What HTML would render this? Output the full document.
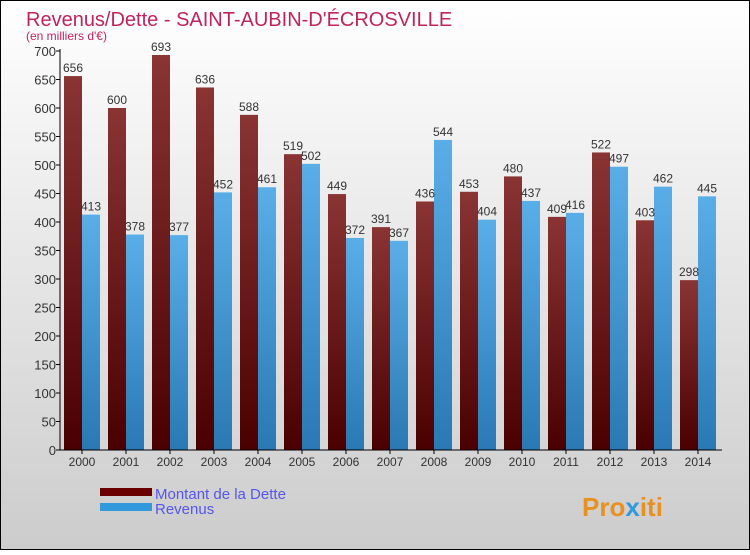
<!DOCTYPE html>
<html><head><meta charset="utf-8"><style>
body{margin:0;}
svg text{font-family:"Liberation Sans",sans-serif;}
</style></head><body>
<svg id="chart" width="750" height="550" xmlns="http://www.w3.org/2000/svg">
<defs>
<linearGradient id="bg" x1="0" y1="0" x2="0" y2="1"><stop offset="0" stop-color="#ffffff"/><stop offset="1" stop-color="#cccccc"/></linearGradient>
<linearGradient id="gd" x1="0" y1="0" x2="0" y2="1"><stop offset="0" stop-color="#8a3434"/><stop offset="1" stop-color="#4a0000"/></linearGradient>
<linearGradient id="gr" x1="0" y1="0" x2="0" y2="1"><stop offset="0" stop-color="#5aaee8"/><stop offset="1" stop-color="#2a78b4"/></linearGradient>
</defs>
<rect x="0.5" y="0.5" width="749" height="549" fill="url(#bg)" stroke="#000"/>
<text x="26" y="26" font-size="20" fill="#c0245c">Revenus/Dette - SAINT-AUBIN-D'ÉCROSVILLE</text>
<text x="26" y="40" font-size="12" fill="#c0245c">(en milliers d'€)</text>
<g id="plot"></g>
<rect x="100" y="488" width="52" height="8" fill="#6a0000"/>
<rect x="100" y="503" width="52" height="8" fill="#3399dd"/>
<text x="155" y="499" font-size="15" fill="#5555ee">Montant de la Dette</text>
<text x="155" y="514" font-size="15" fill="#5555ee">Revenus</text>
<text x="582" y="516" font-size="26" font-weight="bold" fill="#e89020">Pro<tspan fill="#3399dd">x</tspan>iti</text>
</svg>
<script>
const years=["2000","2001","2002","2003","2004","2005","2006","2007","2008","2009","2010","2011","2012","2013","2014"];
const dette=[656,600,693,636,588,519,449,391,436,453,480,409,522,403,298];
const revenus=[413,378,377,452,461,502,372,367,544,404,437,416,497,462,445];
const yTicks=[0,50,100,150,200,250,300,350,400,450,500,550,600,650,700];
const NS="http://www.w3.org/2000/svg";
const g=document.getElementById('plot');
const x0=60,y0=450,yTop=51,yMax=700,step=44,bw=18;
const y=v=>y0-(v/yMax)*(y0-yTop);
const gx=i=>x0+22+step*i;
function mk(t,a){const e=document.createElementNS(NS,t);for(const k in a)e.setAttribute(k,a[k]);g.appendChild(e);return e;}
yTicks.forEach(v=>{
 const l=mk('line',{x1:x0-4,x2:x0,y1:y(v),y2:y(v),stroke:'#000'});
 
 
 const t=mk('text',{x:x0-4,y:y(v)+5,'text-anchor':'end','font-size':13,fill:'#333'});
 t.textContent=v;
 
 
});
years.forEach((yr,i)=>{
 const c=gx(i);
 const b1=mk('rect',{x:c-bw,y:y(dette[i]),width:bw,height:y0-y(dette[i]),fill:'url(#gd)'});
 
 
 const b2=mk('rect',{x:c,y:y(revenus[i]),width:bw,height:y0-y(revenus[i]),fill:'url(#gr)'});
 
 
 const t1=mk('text',{x:c-bw/2,y:y(dette[i])-4,'text-anchor':'middle','font-size':12,fill:'#333'});
 t1.textContent=dette[i];
 
 
 const t2=mk('text',{x:c+bw/2,y:y(revenus[i])-4,'text-anchor':'middle','font-size':12,fill:'#333'});
 t2.textContent=revenus[i];
 
 
 const tk=mk('line',{x1:c,x2:c,y1:y0,y2:y0+4,stroke:'#000'});
 
 
 const xl=mk('text',{x:c,y:y0+16,'text-anchor':'middle','font-size':12,fill:'#333'});
 xl.textContent=yr;
 
 
});
const ya=mk('line',{x1:x0,x2:x0,y1:yTop-2,y2:y0,stroke:'#000'});


const xa=mk('line',{x1:x0,x2:722,y1:y0,y2:y0,stroke:'#000'});


</script>
</body></html>
